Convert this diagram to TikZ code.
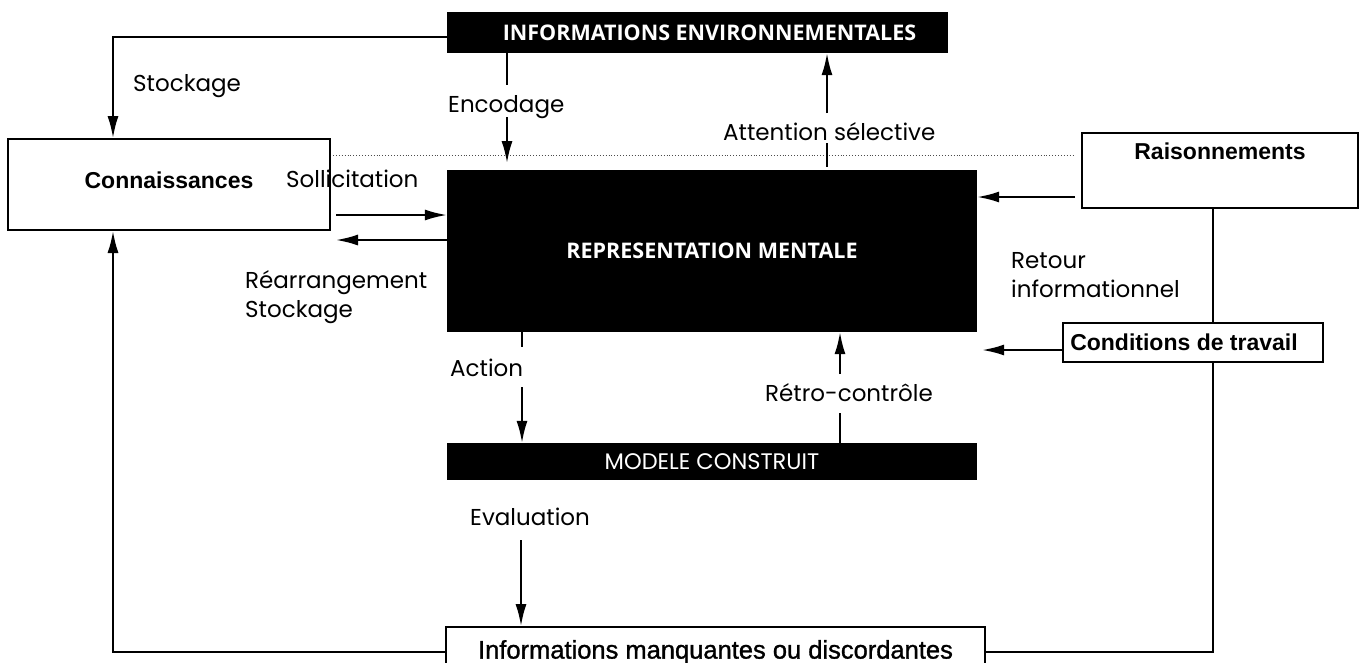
\documentclass[tikz,border=0pt]{standalone}
\usepackage{fontspec}
\setmainfont{Liberation Sans}
\newfontfamily\labfont{Poppins}
\newfontfamily\boxfont{Open Sans}
\newfontfamily\geofont{Poppins}
\newfontfamily\narrowfont[FakeBold=1.2]{Liberation Sans}
\usetikzlibrary{arrows.meta}
\begin{document}
\begin{tikzpicture}[x=1pt,y=-1pt,
  arr/.style={line width=2pt,-{Latex[length=22pt,width=11pt]}},
  plain/.style={line width=2pt},
  wbox/.style={draw,line width=2pt,fill=white,inner sep=0pt,font=\bfseries\fontsize{23}{28}\selectfont},
  bbox/.style={fill=black,text=white,inner sep=0pt},
  lab/.style={font=\labfont\fontsize{23}{29}\selectfont,inner sep=0pt,anchor=base west},
  dotline/.style={line width=0.9pt,dotted,black!70}]
\clip (0,0) rectangle (1365,662);
\fill[white] (0,0) rectangle (1365,662);

% boxes
\node[bbox,minimum width=501pt,minimum height=41pt,font=\boxfont\bfseries\fontsize{21.5}{26}\selectfont]
  (ie) at (697.5,32.5) {\hspace*{24pt}INFORMATIONS ENVIRONNEMENTALES};
\node[bbox,minimum width=530pt,minimum height=162pt,font=\boxfont\bfseries\fontsize{21.5}{26}\selectfont]
  (rm) at (712,251) {REPRESENTATION MENTALE};
\node[bbox,minimum width=530pt,minimum height=37pt,font=\geofont\fontsize{22.5}{26}\selectfont]
  (mc) at (712,461.5) {MODELE CONSTRUIT};
\node[wbox,minimum width=322pt,minimum height=91pt,text depth=8pt]
  (conn) at (169,184.5) {Connaissances};
\node[wbox,minimum width=276pt,minimum height=75pt,text depth=38pt,line width=2.4pt]
  (rais) at (1220,170.5) {Raisonnements};
\node[wbox,minimum width=260pt,minimum height=39pt]
  (cond) at (1193,342.5) {Conditions de travail\hspace*{18pt}};
\node[wbox,minimum width=539pt,minimum height=50pt,font=\narrowfont\fontsize{25.5}{30}\selectfont]
  (imd) at (715.5,652) {Informations manquantes ou discordantes};

% helper coordinates
\coordinate (cx) at (113,0);
\coordinate (sy) at (0,37);
\coordinate (ex) at (507,0);
\coordinate (e1) at (507,85);
\coordinate (e2) at (507,117);
\coordinate (e3) at (507,163);
\coordinate (a1) at (827,113);
\coordinate (a2) at (827,143);
\coordinate (a3) at (827,167);
\coordinate (sol) at (0,215);
\coordinate (rar) at (0,240);
\coordinate (ry) at (1075,197);
\coordinate (cy) at (0,350);
\coordinate (vx) at (1213,0);
\coordinate (acx) at (522,0);
\coordinate (ac1) at (522,347);
\coordinate (ac2) at (522,387);
\coordinate (rx) at (840,0);
\coordinate (rc1) at (840,413);
\coordinate (rc2) at (840,374);
\coordinate (ev) at (521,540);
\coordinate (d1) at (333,155);
\coordinate (d2) at (1073,155);

% dotted separator
\draw[dotline] (d1) -- (d2);

% connectors
\draw[arr] (ie.west |- sy) -| (conn.north -| cx);
\draw[plain] (ie.south -| ex) -- (e1);
\draw[arr] (e2) -- (e3);
\draw[arr] (a1) -- (ie.south -| a1);
\draw[plain] (a2) -- (a3);
\draw[arr,shorten <=5pt] (conn.east |- sol) -- (rm.west |- sol);
\draw[arr,shorten >=5pt] (rm.west |- rar) -- (conn.east |- rar);
\draw[arr] (ry) -- (rm.east |- ry);
\draw[arr,shorten >=5pt] (cond.west |- cy) -- (rm.east |- cy);
\draw[plain] (rais.south -| vx) -- (cond.north -| vx);
\draw[plain] (cond.south -| vx) |- (imd.east);
\draw[plain] (rm.south -| acx) -- (ac1);
\draw[arr] (ac2) -- (mc.north -| acx);
\draw[plain] (mc.north -| rx) -- (rc1);
\draw[arr] (rc2) -- (rm.south -| rx);
\draw[arr] (ev) -- (imd.north -| ev);
\draw[arr] (imd.west) -| (conn.south -| cx);

% labels
\node[lab] (lstock) at (133,91) {Stockage};
\node[lab] (lenc) at (448,112) {Encodage};
\node[lab] (latt) at (723,140) {Attention sélective};
\node[lab] (lsol) at (286,187) {Sollicitation};
\node[lab] (lrea) at (245,288) {Réarrangement};
\node[lab] (lsto2) at (245,317) {Stockage};
\node[lab] (lret) at (1011,268) {Retour};
\node[lab] (linf) at (1011,297) {informationnel};
\node[lab] (lact) at (450,376) {Action};
\node[lab] (lretro) at (765,401) {Rétro-contrôle};
\node[lab] (leval) at (470,525) {Evaluation};
\end{tikzpicture}
\end{document}
